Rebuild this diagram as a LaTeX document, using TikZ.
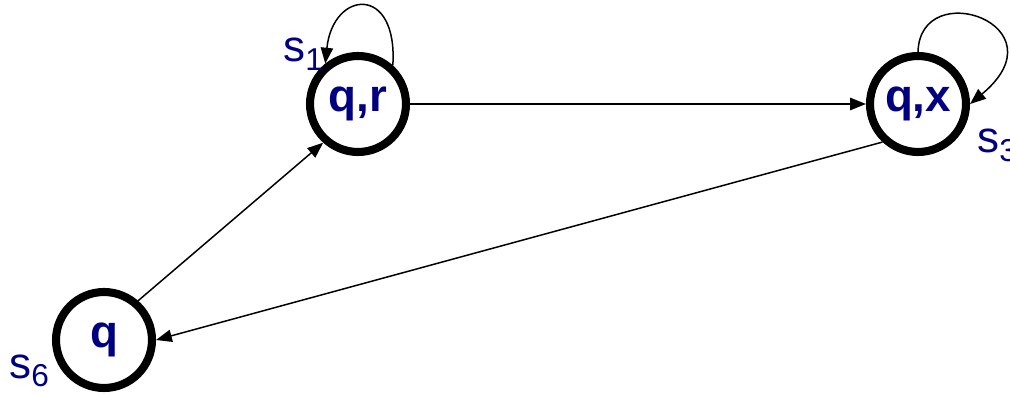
\documentclass[tikz,border=0pt]{standalone}
\usepackage{fontspec}
\setmainfont{Liberation Sans}
\usetikzlibrary{arrows.meta}
\definecolor{lbl}{RGB}{0,0,128}
\newcommand{\subl}[1]{\raisebox{-5pt}{\fontsize{18}{20}\selectfont #1}}
\begin{document}
\begin{tikzpicture}[x=0.02cm,y=-0.02cm,
  state/.style={circle,draw=black,line width=4.6pt,minimum size=1.92cm,inner sep=0pt,
    text=lbl,font=\fontsize{26}{30}\selectfont\bfseries},
  arr/.style={draw=black,line width=0.85pt,-{Triangle[length=9pt,width=7pt]}},
  slabel/.style={text=lbl,font=\fontsize{25}{29}\selectfont,inner sep=0pt,anchor=base west}]
\useasboundingbox (0,0) rectangle (1010,394);
\node[state] (qr) at (358,104) {q,r};
\node[state] (qx) at (918,104) {q,x};
\node[state] (q) at (104,340) {q};
\node[slabel] (s1) at (283,62) {s\subl{1}};
\node[slabel] (s3) at (977,153) {s\subl{3}};
\node[slabel] (s6) at (9,378) {s\subl{6}};
\draw[arr] (qr) -- (qx);
\draw[arr] (q.49) -- (qr.228);
\draw[arr] (qx.227) -- (q.0);
\draw[arr] (qr.48) .. controls (398,-16) and (333,-10) .. (qr.129);
\draw[arr] (qx.90) .. controls (920,-25) and (1065,25) .. (qx.0);
\end{tikzpicture}
\end{document}
